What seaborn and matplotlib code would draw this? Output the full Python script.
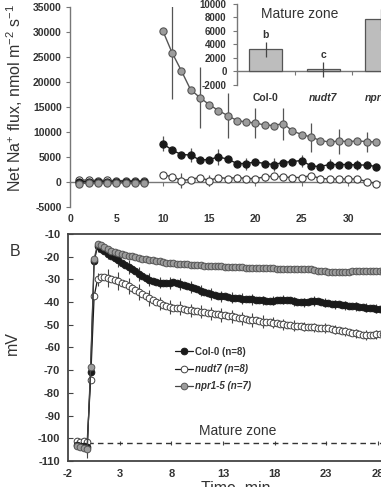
import numpy as np
import pandas as pd
import matplotlib
matplotlib.use("Agg")
import matplotlib.pyplot as plt
import seaborn as sns
from matplotlib.lines import Line2D

sns.set_theme(style="white")
plt.rcParams["font.family"] = ["Liberation Sans", "DejaVu Sans"]
plt.rcParams["mathtext.fontset"] = "custom"
plt.rcParams["mathtext.rm"] = "Liberation Sans"
plt.rcParams["mathtext.it"] = "Liberation Sans:italic"
plt.rcParams["axes.unicode_minus"] = False

# ---------------- data : panel A (net Na+ flux) ----------------
genotypes = ["Col-0", "nudt7", "npr1-5"]
flux_time_pre = [1, 2, 3, 4, 5, 6, 7, 8]
flux_time_salt = [10, 11, 12, 13, 14, 15, 16, 17, 18, 19, 20, 21,
                  22, 23, 24, 25, 26, 27, 28, 29, 30, 31, 32, 33]

col_flux_pre = [0, 100, 0, 50, 0, 0, 50, 0]
nudt_flux_pre = [350, 400, 300, 350, 250, 300, 250, 200]
npr_flux_pre = [-300, -250, -200, -250, -150, -200, -150, -250]

col_flux_salt = [7700, 6400, 5500, 5400, 4400, 4500, 5000, 4600, 3700, 3700, 4000, 3700,
                 3500, 3900, 4100, 4300, 3200, 3100, 3500, 3500, 3500, 3400, 3400, 3100]
nudt_flux_salt = [1400, 1100, 300, 500, 900, 300, 900, 700, 900, 700, 700, 1000,
                  1200, 1000, 900, 900, 1300, 700, 600, 600, 600, 600, 100, -300]
npr_flux_salt = [30300, 25900, 22300, 18500, 16900, 15500, 14300, 13300, 12300, 12000, 11800, 11400,
                 11300, 11700, 10200, 9500, 9000, 8300, 8000, 8200, 8100, 8200, 8100, 8000]

# error bars (every third point)
col_err_time = [10, 13, 16, 19, 22, 25, 28, 31]
col_err = [1500, 1350, 1550, 1200, 1300, 1200, 1100, 1000]
nudt_err_time = [12, 15, 18, 21, 24, 27, 30, 33]
nudt_err = [1500, 1100, 800, 700, 800, 700, 800, 600]
npr_err_time = [11, 14, 17, 20, 23, 26, 29, 32]
npr_err = [9300, 6100, 4500, 3000, 3200, 2900, 2500, 2000]

# inset bar chart (mature zone)
bar_labels = ["Col-0", "nudt7", "npr1-5"]
bar_values = [3250, 300, 7670]
bar_errors = [1100, 1100, 1500]
bar_letters = ["b", "c"]          # letter of the third bar lies outside the crop

# ---------------- data : panel B (membrane potential) ----------------
time_b = np.round(np.arange(90) / 3 - 1.14, 2)   # sampled every 20 s

col_mv = [-103.0, -103.5, -103.2, -104.0, -70.6, -22.0, -15.5, -16.5, -17.5, -18.6,
          -19.6, -20.6, -21.6, -22.6, -23.5, -24.5, -25.5, -26.4, -27.5, -28.5,
          -29.4, -30.1, -30.6, -31.0, -31.5, -31.7, -31.5, -31.6, -31.3, -31.6,
          -32.0, -32.5, -32.9, -33.3, -33.8, -34.4, -35.0, -35.6, -36.1, -36.4,
          -36.8, -37.1, -37.4, -37.5, -37.8, -38.0, -38.2, -38.4, -38.5, -38.6,
          -38.7, -38.8, -38.9, -39.0, -39.1, -39.3, -39.4, -39.3, -39.1, -39.0,
          -38.9, -39.0, -39.2, -39.6, -39.9, -40.1, -40.0, -39.8, -39.6, -39.5,
          -39.7, -39.9, -40.2, -40.5, -40.7, -40.9, -41.0, -41.2, -41.4, -41.6,
          -41.8, -41.9, -42.0, -42.2, -42.4, -42.6, -42.8, -43.0, -43.2, -43.3]
nudt_mv = [-101.2, -101.5, -101.3, -101.6, -74.3, -37.5, -30.0, -29.0, -28.9, -29.3,
           -29.8, -30.3, -30.8, -31.4, -32.2, -33.0, -33.8, -34.6, -35.5, -36.3,
           -37.2, -38.1, -39.0, -39.8, -40.6, -41.3, -41.8, -42.2, -42.4, -42.5,
           -42.7, -43.0, -43.4, -43.7, -43.9, -44.0, -44.2, -44.4, -44.7, -45.0,
           -45.2, -45.4, -45.6, -45.8, -46.0, -46.3, -46.6, -46.9, -47.2, -47.5,
           -47.7, -47.9, -48.1, -48.4, -48.6, -48.8, -48.9, -49.1, -49.4, -49.6,
           -49.8, -50.0, -50.2, -50.4, -50.6, -50.7, -50.8, -50.9, -51.0, -51.1,
           -51.2, -51.3, -51.4, -51.6, -51.8, -52.1, -52.4, -52.7, -52.9, -53.2,
           -53.5, -53.8, -54.1, -54.4, -54.5, -54.6, -54.4, -54.2, -54.1, -54.0]
npr_mv = [-103.5, -104.0, -104.2, -104.6, -68.4, -21.0, -14.5, -15.0, -15.8, -16.6,
          -17.4, -17.9, -18.4, -18.8, -19.2, -19.6, -19.9, -20.3, -20.5, -20.9,
          -21.0, -21.3, -21.6, -21.9, -22.1, -22.3, -22.6, -22.7, -22.9, -23.0,
          -23.1, -23.3, -23.4, -23.5, -23.6, -23.7, -23.8, -23.9, -24.0, -24.1,
          -24.2, -24.3, -24.3, -24.4, -24.5, -24.5, -24.6, -24.7, -24.7, -24.8,
          -24.8, -24.9, -24.9, -25.0, -25.0, -25.0, -25.1, -25.1, -25.2, -25.2,
          -25.2, -25.3, -25.3, -25.3, -25.3, -25.4, -25.3, -25.4, -25.6, -25.9,
          -26.2, -26.4, -26.5, -26.6, -26.6, -26.7, -26.7, -26.8, -26.7, -26.6,
          -26.5, -26.4, -26.3, -26.4, -26.3, -26.4, -26.3, -26.4, -26.4, -26.5]

# errors at every third sample (index 3, 6, ..., 87)
col_mv_err = [4.5, 2.5, 2.5, 3.0, 3.0, 3.0, 3.0, 2.5, 2.5, 2.5, 2.5, 2.5, 2.5, 2.5, 2.5,
              2.5, 2.5, 2.0, 2.0, 2.0, 2.0, 2.0, 2.0, 2.0, 2.0, 2.0, 2.0, 2.0, 2.0]
nudt_mv_err = [4.0, 3.0, 4.0, 4.0, 3.5, 3.5, 3.5, 3.0, 3.0, 3.0, 3.0, 3.0, 3.0, 3.0, 3.0,
               3.0, 3.0, 3.0, 2.5, 2.5, 2.5, 2.0, 2.0, 2.0, 2.0, 2.0, 2.0, 2.0, 2.0]
npr_mv_err = [2.5, 1.5, 1.2, 1.2, 1.2, 1.2, 1.2, 1.2, 1.2, 1.2, 1.2, 1.2, 1.2, 1.2, 1.2,
              1.2, 1.2, 1.2, 1.2, 1.2, 1.2, 1.2, 1.2, 1.2, 1.2, 1.2, 1.2, 1.2, 1.2]
legend_labels = ["Col-0 (n=8)", "nudt7 (n=8)", "npr1-5 (n=7)"]
baseline_mv = -102

# ---------------- styles ----------------
TXT = "#333333"
styles = {
    "Col-0": dict(line="#1a1a1a", fc="#1a1a1a", ec="#1a1a1a"),
    "nudt7": dict(line="#404040", fc="white", ec="#404040"),
    "npr1-5": dict(line="#555555", fc="#9c9c9c", ec="#555555"),
}
draw_order = ["nudt7", "Col-0", "npr1-5"]

W, H = 381, 487
fig = plt.figure(figsize=(W / 100, H / 100), dpi=100)

# ================= panel A =================
ax1 = fig.add_axes([70 / W, (H - 207) / H, (W - 70) / W, 200 / H])
rows = []
pre = {"Col-0": col_flux_pre, "nudt7": nudt_flux_pre, "npr1-5": npr_flux_pre}
salt = {"Col-0": col_flux_salt, "nudt7": nudt_flux_salt, "npr1-5": npr_flux_salt}
for g in genotypes:
    for t, v in zip(flux_time_pre, pre[g]):
        rows.append(dict(time=t, flux=v, genotype=g, seg="pre"))
    for t, v in zip(flux_time_salt, salt[g]):
        rows.append(dict(time=t, flux=v, genotype=g, seg="salt"))
df_a = pd.DataFrame(rows)

errs_a = {"Col-0": (col_err_time, col_err), "nudt7": (nudt_err_time, nudt_err),
          "npr1-5": (npr_err_time, npr_err)}
for z, g in enumerate(draw_order):
    st = styles[g]
    sub = df_a[df_a.genotype == g]
    et, ev = errs_a[g]
    lookup = dict(zip(flux_time_salt, salt[g]))
    ax1.errorbar(et, [lookup[t] for t in et], yerr=ev, fmt="none", ecolor="#555555",
                 elinewidth=0.9, capsize=0, zorder=2 + 2 * z)
    sns.lineplot(data=sub, x="time", y="flux", units="seg", estimator=None, ax=ax1,
                 color=st["line"], linewidth=1.0, marker="o", markersize=5.2,
                 markerfacecolor=st["fc"], markeredgecolor=st["ec"],
                 markeredgewidth=0.8, legend=False, zorder=3 + 2 * z)

ax1.set_xlim(0, 33.55)
ax1.set_ylim(-5000, 35000)
ax1.set_xticks([0, 5, 10, 15, 20, 25, 30])
ax1.set_yticks(range(-5000, 35001, 5000))
for s in ["top", "right", "bottom"]:
    ax1.spines[s].set_visible(False)
ax1.spines["left"].set_color("#777777")
ax1.spines["left"].set_linewidth(1.0)
ax1.tick_params(axis="x", length=0, pad=5, labelsize=7.5, labelcolor=TXT)
ax1.tick_params(axis="y", left=True, direction="out", length=3, width=0.8, color="#777777",
                pad=3, labelsize=7.5, labelcolor=TXT)
for lab in ax1.get_xticklabels() + ax1.get_yticklabels():
    lab.set_fontweight("bold")
ax1.set_xlabel("")
ax1.set_ylabel("")
zero = ax1.secondary_xaxis(0, transform=ax1.transData)
zero.set_xticks([0, 5, 10, 15, 20, 25, 30])
zero.tick_params(axis="x", direction="out", length=3, width=0.8, color="#777777", labelbottom=False)
zero.spines["bottom"].set_color("#777777")
zero.spines["bottom"].set_linewidth(1.0)

fig.text(14.5 / W, (H - 98) / H, "Net Na$^{+}$ flux, nmol m$^{-2}$ s$^{-1}$", rotation=90,
         ha="center", va="center", fontsize=11.5, color=TXT)

# ---------------- inset ----------------
axi = fig.add_axes([237 / W, (H - 85) / H, (W - 237) / W, 81.5 / H])
axi.patch.set_facecolor("white")
df_bar = pd.DataFrame({"genotype": bar_labels, "flux": bar_values})
sns.barplot(data=df_bar, x="genotype", y="flux", ax=axi, color="#bdbdbd",
            edgecolor="#555555", linewidth=0.9, width=0.57, errorbar=None, saturation=1)
axi.errorbar([0, 1, 2], bar_values, yerr=bar_errors, fmt="none", ecolor="#444444",
             elinewidth=0.9, capsize=0, zorder=5)
for i, letter in enumerate(bar_letters):
    axi.text(i, bar_values[i] + bar_errors[i] + 300, letter, ha="center", va="bottom",
             fontsize=7.5, fontweight="bold", color=TXT)
axi.set_xlim(-0.5, 1.98)
axi.set_ylim(-2000, 10000)
axi.set_yticks(range(-2000, 10001, 2000))
for s in ["top", "right", "bottom"]:
    axi.spines[s].set_visible(False)
axi.spines["left"].set_color("#777777")
axi.spines["left"].set_linewidth(1.0)
axi.tick_params(axis="y", left=True, direction="out", length=3, width=0.8, color="#777777",
                pad=4.5, labelsize=7, labelcolor=TXT)
axi.tick_params(axis="x", length=0, pad=6, labelsize=7.5, labelcolor=TXT)
axi.set_xticks([0, 1, 2])
axi.set_xticklabels(bar_labels)
for i, lab in enumerate(axi.get_xticklabels()):
    lab.set_fontweight("bold")
    if i > 0:
        lab.set_fontstyle("italic")
for lab in axi.get_yticklabels():
    lab.set_fontweight("bold")
axi.set_xlabel("")
axi.set_ylabel("")
zi = axi.secondary_xaxis(0, transform=axi.transData)
zi.set_xticks([0.5, 1.5])
zi.tick_params(axis="x", direction="out", length=3, width=0.8, color="#777777", labelbottom=False)
zi.spines["bottom"].set_color("#777777")
zi.spines["bottom"].set_linewidth(1.0)
axi.text(0.585, 8400, "Mature zone", ha="center", va="center", fontsize=10, color=TXT)

# ================= panel B =================
ax2 = fig.add_axes([68 / W, (H - 461) / H, (384.8 - 68) / W, 227 / H])
mv = {"Col-0": col_mv, "nudt7": nudt_mv, "npr1-5": npr_mv}
mv_err = {"Col-0": col_mv_err, "nudt7": nudt_mv_err, "npr1-5": npr_mv_err}
df_b = pd.DataFrame([dict(time=t, mv=v, genotype=g)
                     for g in genotypes for t, v in zip(time_b, mv[g])])
for z, g in enumerate(draw_order):
    st = styles[g]
    sub = df_b[df_b.genotype == g]
    ax2.errorbar(time_b[3::3], np.asarray(mv[g])[3::3], yerr=mv_err[g], fmt="none",
                 ecolor="#444444", elinewidth=0.8, capsize=0, zorder=2 + 2 * z)
    sns.lineplot(data=sub, x="time", y="mv", estimator=None, ax=ax2,
                 color="#1a1a1a" if g != "npr1-5" else "#444444", linewidth=0.9,
                 marker="o", markersize=4.8, markerfacecolor=st["fc"],
                 markeredgecolor=st["ec"], markeredgewidth=0.7, legend=False,
                 zorder=3 + 2 * z)

ax2.hlines(baseline_mv, -1.0, 28.67, colors="#333333", linestyles=(0, (4, 3)),
           linewidth=1.0, zorder=1)
ax2.set_xlim(-2, 28.67)
ax2.set_ylim(-110, -10)
ax2.set_xticks([-2, 3, 8, 13, 18, 23, 28])
ax2.set_yticks(range(-110, -9, 10))
for s in ax2.spines.values():
    s.set_color("#444444")
    s.set_linewidth(1.3)
ax2.tick_params(axis="x", length=0, pad=6, labelsize=8, labelcolor=TXT)
ax2.tick_params(axis="y", left=True, direction="in", length=3.5, width=0.8, color="#444444",
                pad=5.5, labelsize=8, labelcolor=TXT)
for lab in ax2.get_xticklabels() + ax2.get_yticklabels():
    lab.set_fontweight("bold")
ax2.set_ylabel("")
ax2.set_xlabel("Time, min", fontsize=11.5, color=TXT)
ax2.xaxis.set_label_coords(0.53, -0.088)
dz = ax2.secondary_xaxis(baseline_mv, transform=ax2.transData)
dz.set_xticks([3, 8, 13, 18, 23, 28])
dz.tick_params(axis="x", direction="inout", length=3.5, width=0.8, color="#444444",
               labelbottom=False)
dz.spines["bottom"].set_visible(False)

ax2.text(14.4, -96.7, "Mature zone", ha="center", va="center", fontsize=10, color=TXT)

handles = []
for g in genotypes:
    st = styles[g]
    handles.append(Line2D([], [], color="#1a1a1a" if g != "npr1-5" else "#444444",
                          linewidth=0.9, marker="o", markersize=4.8,
                          markerfacecolor=st["fc"], markeredgecolor=st["ec"],
                          markeredgewidth=0.7))
leg = ax2.legend(handles, legend_labels, loc="upper left", bbox_to_anchor=(0.338, 0.503),
                 frameon=False, fontsize=7, handlelength=1.8, handletextpad=0.2,
                 labelspacing=0.75, borderpad=0, borderaxespad=0)
for i, t in enumerate(leg.get_texts()):
    t.set_fontweight("bold")
    t.set_color(TXT)
    if i > 0:
        t.set_fontstyle("italic")

fig.text(12 / W, (H - 343) / H, "mV", rotation=90, ha="center", va="center",
         fontsize=11.5, color=TXT)
fig.text(15 / W, (H - 252) / H, "B", ha="center", va="center", fontsize=11.5, color=TXT)

fig.savefig("out.png", dpi=100)
